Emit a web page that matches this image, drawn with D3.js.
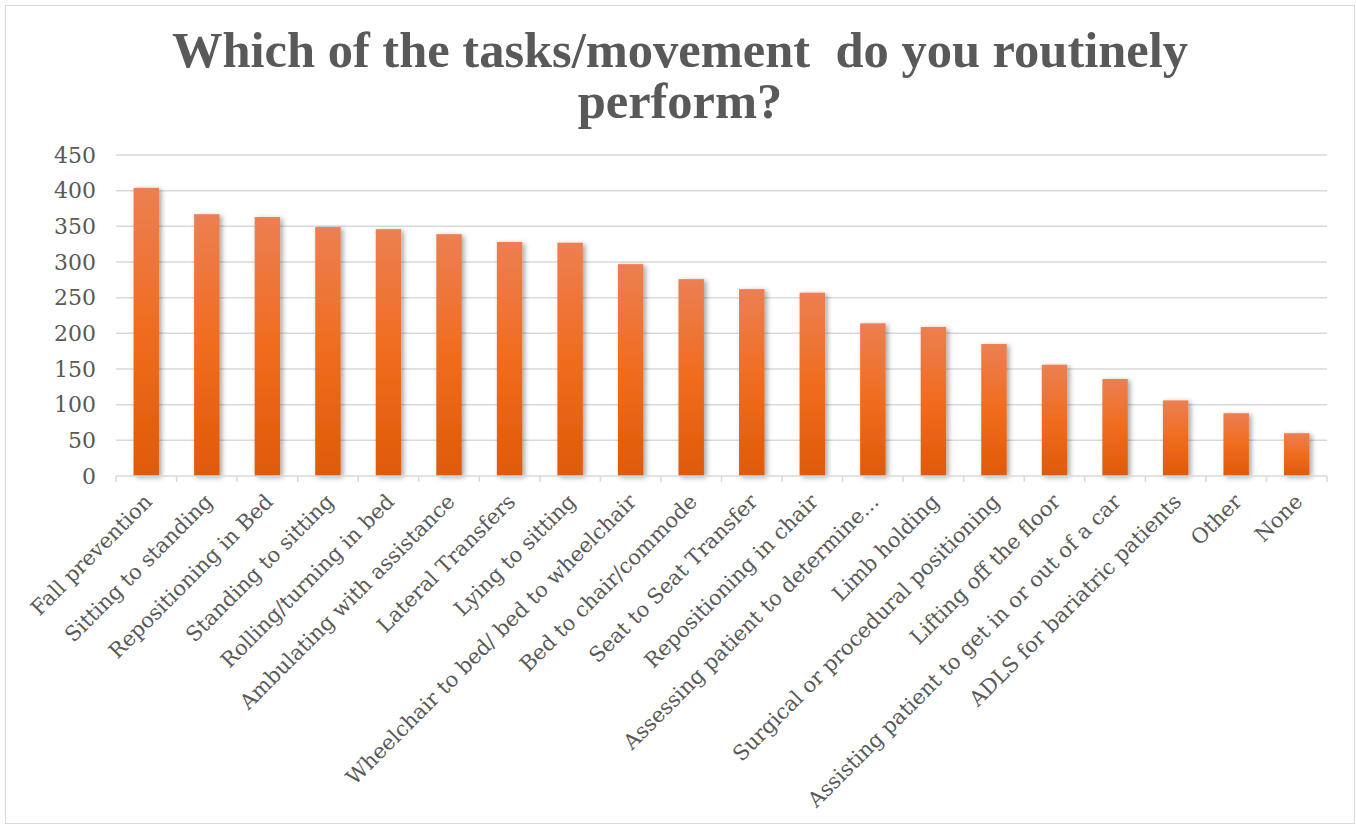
<!DOCTYPE html>
<html>
<head>
<meta charset="utf-8">
<script src="https://cdn.jsdelivr.net/npm/d3@7"></script>
<style>
  html, body { margin: 0; padding: 0; background: #fff; }
  svg { display: block; }
</style>
</head>
<body>
<svg id="chart" width="1356" height="825"></svg>
<script>
const titleLines = ["Which of the tasks/movement  do you routinely", "perform?"];
const categories = [
  "Fall prevention", "Sitting to standing", "Repositioning in Bed", "Standing to sitting",
  "Rolling/turning in bed", "Ambulating with assistance", "Lateral Transfers", "Lying to sitting",
  "Wheelchair to bed/ bed to wheelchair", "Bed to chair/commode", "Seat to Seat Transfer",
  "Repositioning in chair", "Assessing patient to determine...", "Limb holding",
  "Surgical or procedural positioning", "Lifting off the floor",
  "Assisting patient to get in or out of a car", "ADLS for bariatric patients", "Other", "None"
];
const values = [404, 367, 363, 349, 346, 339, 328, 327, 297, 276, 262, 257, 214, 209, 185, 156, 136, 106, 88, 60];
const yTicks = [0, 50, 100, 150, 200, 250, 300, 350, 400, 450];

const svg = d3.select("#chart");
const margin = { left: 116, right: 1327, top: 155, bottom: 476 };
const textColor = "#595959";
const gridColor = "#D9D9D9";

// chart border
svg.append("rect")
  .attr("x", 5.5).attr("y", 5.5).attr("width", 1349).attr("height", 818)
  .attr("fill", "#fff").attr("stroke", gridColor).attr("stroke-width", 1);

const defs = svg.append("defs");
const grad = defs.append("linearGradient").attr("id", "barGrad")
  .attr("x1", 0).attr("y1", 0).attr("x2", 0).attr("y2", 1);
grad.append("stop").attr("offset", "0%").attr("stop-color", "#EC7F52");
grad.append("stop").attr("offset", "50%").attr("stop-color", "#F06C1E");
grad.append("stop").attr("offset", "100%").attr("stop-color", "#DF5A08");

const flt = defs.append("filter").attr("id", "shadow")
  .attr("x", "-30%").attr("y", "-10%").attr("width", "180%").attr("height", "130%");
flt.append("feDropShadow").attr("dx", 2.5).attr("dy", 1.5).attr("stdDeviation", 2.5)
  .attr("flood-color", "#000").attr("flood-opacity", 0.35);

// title
const title = svg.append("text")
  .attr("text-anchor", "middle")
  .attr("fill", textColor)
  .style("font-family", "'Liberation Serif', serif")
  .style("font-weight", "bold")
  .style("font-size", "50.5px")
  .style("white-space", "pre");
titleLines.forEach((t, i) => {
  title.append("tspan").attr("x", 680).attr("y", 67 + i * 51).text(t);
});

const x = d3.scaleBand()
  .domain(categories)
  .range([margin.left, margin.right])
  .paddingInner(0.58)
  .paddingOuter(0.29);

const y = d3.scaleLinear()
  .domain([0, 450])
  .range([margin.bottom, margin.top]);

// gridlines
svg.append("g").selectAll("line")
  .data(yTicks.filter(d => d > 0))
  .join("line")
  .attr("x1", margin.left).attr("x2", margin.right)
  .attr("y1", d => y(d)).attr("y2", d => y(d))
  .attr("stroke", gridColor).attr("stroke-width", 1.5);

// y axis labels
const yAxis = d3.axisLeft(y).tickValues(yTicks).tickSize(0).tickPadding(0);
const gy = svg.append("g").attr("transform", "translate(96,0)").call(yAxis);
gy.select(".domain").remove();
gy.selectAll("text")
  .attr("fill", textColor)
  .style("font-family", "'DejaVu Serif', serif")
  .style("font-size", "22px");

// bars
svg.append("g").selectAll("rect")
  .data(values)
  .join("rect")
  .attr("x", (d, i) => x(categories[i]))
  .attr("y", d => y(d))
  .attr("width", x.bandwidth())
  .attr("height", d => y(0) - y(d))
  .attr("fill", "url(#barGrad)")
  .attr("filter", "url(#shadow)");

// x axis line and ticks at band boundaries
svg.append("line")
  .attr("x1", margin.left).attr("x2", margin.right)
  .attr("y1", y(0)).attr("y2", y(0))
  .attr("stroke", gridColor).attr("stroke-width", 1.5);
const step = x.step();
const bounds = d3.range(categories.length + 1).map(i => margin.left + i * step);
svg.append("g").selectAll("line")
  .data(bounds)
  .join("line")
  .attr("x1", d => d).attr("x2", d => d)
  .attr("y1", y(0)).attr("y2", y(0) + 6)
  .attr("stroke", gridColor).attr("stroke-width", 1.5);

// x labels
svg.append("g").selectAll("text")
  .data(categories)
  .join("text")
  .attr("transform", d => `translate(${x(d) + x.bandwidth() / 2 + 7},${y(0) + 27}) rotate(-45)`)
  .attr("text-anchor", "end")
  .attr("fill", textColor)
  .style("font-family", "'DejaVu Serif', serif")
  .style("font-size", "21px")
  .text(d => d);
</script>
</body>
</html>
